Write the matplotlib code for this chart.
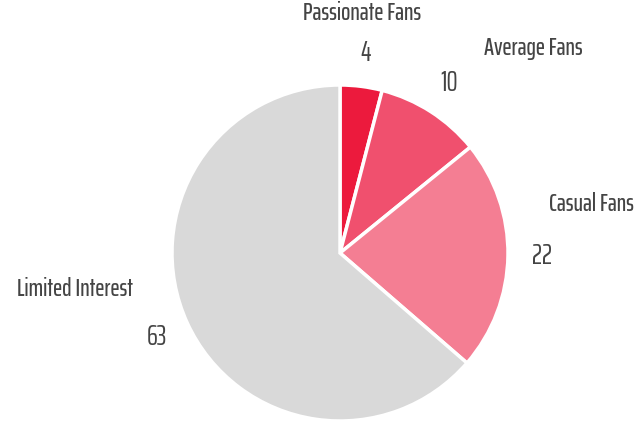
import numpy as np
import matplotlib
matplotlib.use("Agg")
import matplotlib.pyplot as plt

categories = ["Passionate Fans", "Average Fans", "Casual Fans", "Limited Interest"]
values = [4, 10, 22, 63]
colors = ["#EC1A3D", "#F0506E", "#F47E93", "#D9D9D9"]

# name label offset from the value label, in pixels (x right, y up)
name_offsets = [(-3, 40), (84, 35), (50, 52), (-82, 48)]

plt.rcParams['font.family'] = ['Saira ExtraCondensed', 'DejaVu Sans']

fig = plt.figure(figsize=(6.38, 4.23), dpi=100)
ax = fig.add_axes([0, 0, 1, 1])

cx, cy, r = 340, 170, 168
wedges, _ = ax.pie(values, colors=colors, startangle=90, counterclock=False,
                   center=(cx, cy), radius=r,
                   wedgeprops=dict(edgecolor='white', linewidth=2.5))
ax.set_xlim(0, 638)
ax.set_ylim(0, 423)
ax.set_aspect('equal')
ax.axis('off')

for w, name, val, off in zip(wedges, categories, values, name_offsets):
    ang = np.deg2rad((w.theta1 + w.theta2) / 2)
    vx = cx + 1.2 * r * np.cos(ang)
    vy = cy + 1.2 * r * np.sin(ang)
    ax.text(vx, vy, str(val), ha='center', va='center', fontsize=20,
            color='#444444', fontweight='normal')
    ax.text(vx + off[0], vy + off[1], name, ha='center', va='center',
            fontsize=17.5, color='#444444', fontweight='medium')

fig.savefig("out.png", dpi=100)
